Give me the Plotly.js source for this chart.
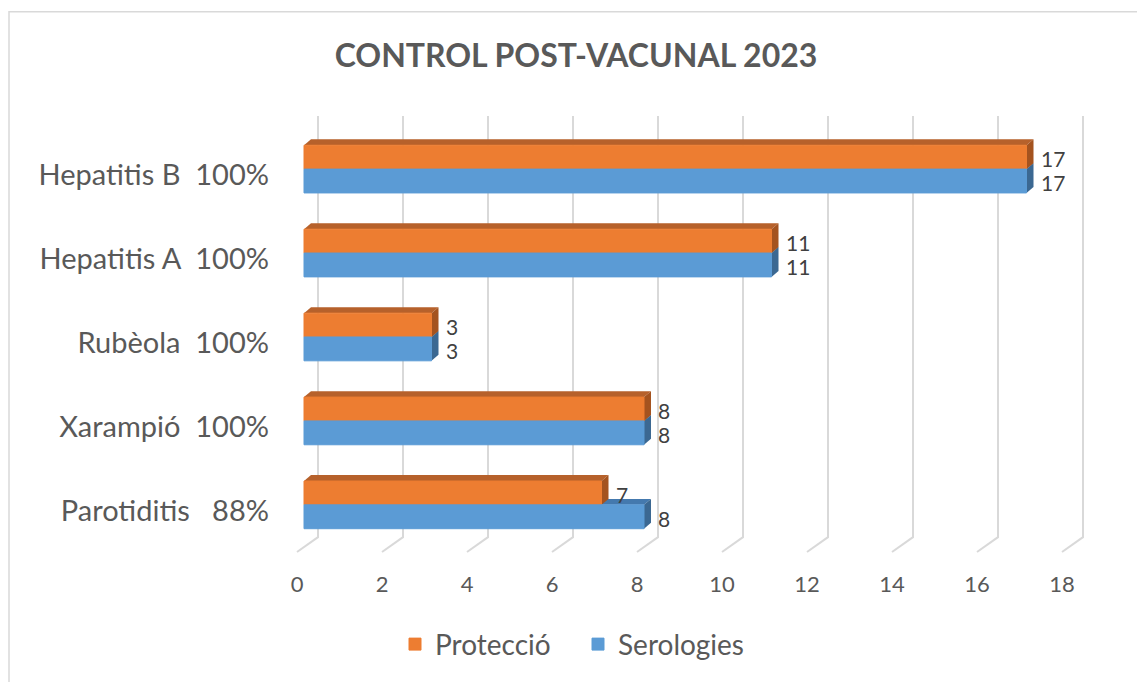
<!DOCTYPE html>
<html>
<head>
<meta charset="utf-8">
<script src="https://cdn.plot.ly/plotly-3.0.1.min.js"></script>
<style>html,body{margin:0;padding:0;background:#fff;}#chart{width:1137px;height:682px;}</style>
</head>
<body>
<div id="chart"></div>
<script>
// ---- data ----
const categories = ['Parotiditis   88%', 'Xarampió  100%', 'Rubèola  100%', 'Hepatitis A  100%', 'Hepatitis B  100%'];
const proteccio = [7, 8, 3, 11, 17];
const serologies = [8, 8, 3, 11, 17];
const seriesNames = ['Protecció', 'Serologies'];
const xTicks = [0, 2, 4, 6, 8, 10, 12, 14, 16, 18];
const chartTitle = 'CONTROL POST-VACUNAL 2023';

// ---- layout constants ----
const W = 1137, H = 682;
const M = {l: 280, r: 37, t: 110, b: 122};
const xRange = [-0.4, 18.894];
const yRange = [-0.55, 4.775];
const plotW = W - M.l - M.r, plotH = H - M.t - M.b;
const pxPerX = plotW / (xRange[1] - xRange[0]);
const pxPerY = plotH / (yRange[1] - yRange[0]);
const barShift = 7 / pxPerX;        // bar front face offset from floor front
const depthX = 7 / pxPerX, depthY = 6 / pxPerY;  // bar depth
const floorX = 21 / pxPerX;         // floor depth (x)
const yFront = 5 / plotH, yBack = 20 / plotH, yTop = 444 / plotH; // paper fractions
const barW = 0.284;
const offsets = [0.071, -0.213];
const fronts = ['#ED7D31', '#5B9BD5'];
const tops = ['#B6612B', '#4479AE'];
const sides = ['#A4531F', '#3B6892'];
const FONT = 'Lato, "Open Sans", sans-serif';

const catPos = categories.map((_, i) => i);
const catLabels = categories.map(c => c.replace(/ /g, '\u00a0'));
const seriesVals = [proteccio, serologies];

const traces = seriesVals.map((vals, s) => ({
  type: 'bar', orientation: 'h', name: seriesNames[s],
  x: vals, y: catPos, xaxis: 'x2', yaxis: 'y',
  offset: offsets[s], width: barW,
  marker: {color: fronts[s], line: {color: fronts[s], width: 1}},
  hoverinfo: 'x+name'
}));

const shapes = [];
// border
shapes.push({type: 'rect', xref: 'paper', yref: 'paper',
  x0: (9 - M.l) / plotW, x1: (W + 20 - M.l) / plotW,
  y0: -(M.b + 30) / plotH, y1: (plotH + M.t - 11) / plotH,
  line: {color: '#D9D9D9', width: 1.5}, layer: 'below'});
// 3D gridlines
xTicks.forEach(t => {
  shapes.push({type: 'path', xref: 'x', yref: 'paper', layer: 'below',
    path: `M ${t},${yFront} L ${t + floorX},${yBack} L ${t + floorX},${yTop}`,
    line: {color: '#D9D9D9', width: 2}});
});
// 3D bar faces: serologies first, then protecció
[1, 0].forEach(s => {
  seriesVals[s].forEach((v, i) => {
    const y0 = catPos[i] + offsets[s], y1 = y0 + barW;
    shapes.push({type: 'path', xref: 'x2', yref: 'y', layer: 'below',
      path: `M 0,${y1} L ${depthX},${y1 + depthY} L ${v + depthX},${y1 + depthY} L ${v},${y1} Z`,
      fillcolor: tops[s], line: {width: 0}});
    shapes.push({type: 'path', xref: 'x2', yref: 'y', layer: 'below',
      path: `M ${v},${y0} L ${v + depthX},${y0 + depthY} L ${v + depthX},${y1 + depthY} L ${v},${y1} Z`,
      fillcolor: sides[s], line: {width: 0}});
  });
});

const annotations = [];
seriesVals.forEach((vals, s) => {
  vals.forEach((v, i) => {
    annotations.push({x: v, xref: 'x2', y: catPos[i] + offsets[s] + barW / 2, yref: 'y',
      text: String(v), showarrow: false, xanchor: 'left', yanchor: 'middle', xshift: 13, yshift: -1,
      height: 22, borderpad: 0,
      font: {family: FONT, size: 21, color: '#404040'}});
  });
});

const layout = {
  width: W, height: H,
  margin: M,
  paper_bgcolor: '#fff', plot_bgcolor: 'rgba(0,0,0,0)',
  font: {family: FONT, color: '#595959'},
  title: {text: chartTitle, xref: 'container', x: 576 / W, xanchor: 'center',
    yref: 'container', y: 1 - 56 / H, yanchor: 'middle',
    font: {family: FONT, size: 32, weight: 700, color: '#595959'}},
  barmode: 'overlay',
  xaxis: {range: xRange, tickvals: xTicks, ticktext: xTicks.map(String),
    showgrid: false, zeroline: false, showline: false, ticks: '',
    ticklabelstandoff: 12, tickfont: {family: FONT, size: 22, color: '#595959'}, fixedrange: true},
  xaxis2: {overlaying: 'x', range: [xRange[0] - barShift, xRange[1] - barShift], visible: false, fixedrange: true},
  yaxis: {range: yRange, tickvals: catPos, ticktext: catLabels,
    showgrid: false, zeroline: false, showline: false, ticks: '',
    ticklabelstandoff: 10, tickfont: {family: FONT, size: 29, color: '#595959'}, fixedrange: true},
  showlegend: true,
  legend: {orientation: 'h', xref: 'paper', x: (578 - M.l) / plotW, xanchor: 'center',
    yref: 'paper', y: -(648 - (M.t + plotH)) / plotH, yanchor: 'middle',
    entrywidth: 138, entrywidthmode: 'pixels',
    font: {family: FONT, size: 28, color: '#595959'}},
  shapes: shapes,
  annotations: annotations
};

Plotly.newPlot('chart', traces, layout, {displayModeBar: false, staticPlot: true});
</script>
</body>
</html>
